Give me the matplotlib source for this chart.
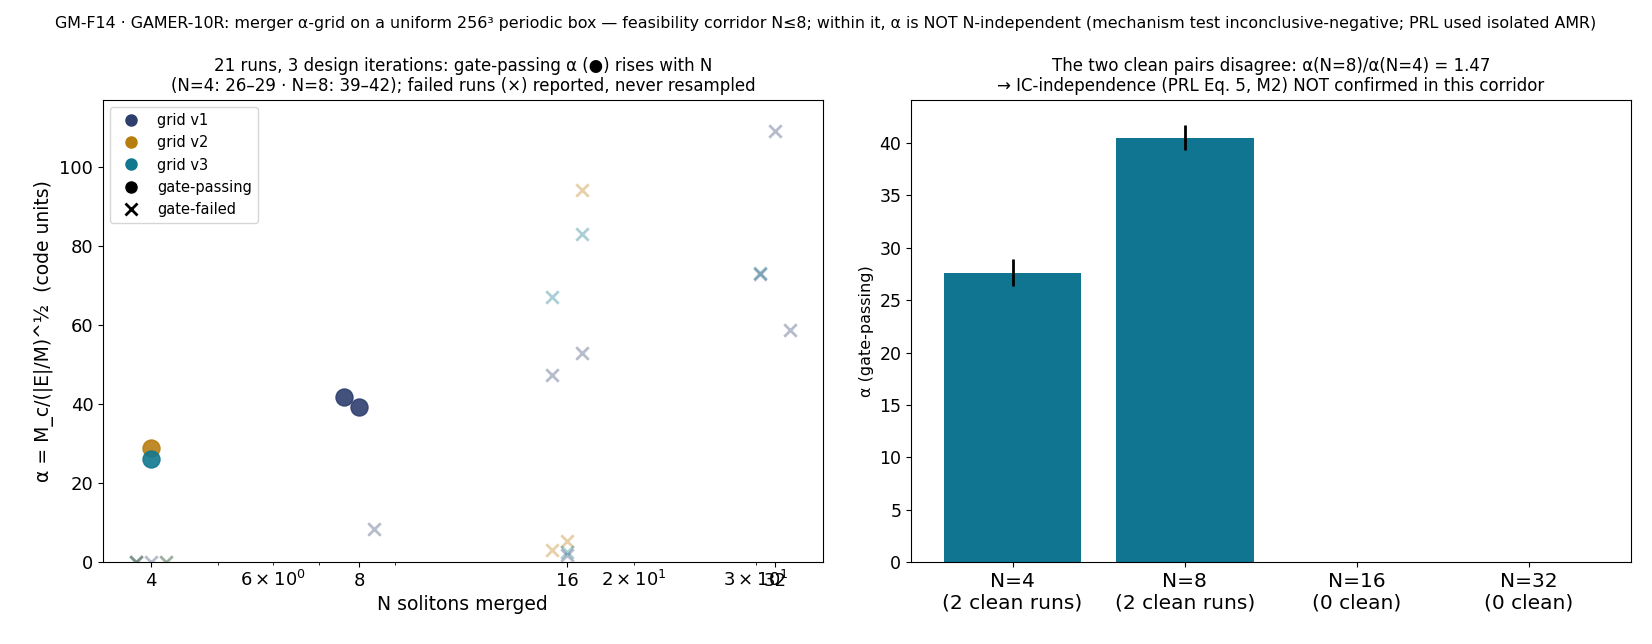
import numpy as np
from matplotlib import pyplot as plt
from matplotlib.lines import Line2D
from matplotlib.ticker import LogFormatterSciNotation

# run table
run_n       = [4, 4, 8, 8, 8, 16, 16, 16, 32, 32, 32,
               4, 4, 4, 16, 16, 16,
               4, 4, 4, 16, 16, 16, 32]
run_grid    = ['v1'] * 11 + ['v2'] * 6 + ['v3'] * 7
run_seed    = [0, 1, 0, 1, 2, 0, 1, 2, 0, 1, 2,
               0, 1, 2, 0, 1, 2,
               0, 1, 2, 0, 1, 2, 0]
run_alpha   = [0.0, 0.0, 41.7, 39.3, 8.3, 47.3, 1.8, 52.9, 73.0, 109.0, 58.7,
               0.0, 29.0, 0.0, 3.2, 5.3, 94.2,
               0.0, 26.2, 0.0, 67.1, 2.5, 83.0, 73.3]
run_pass    = [0, 0, 1, 1, 0, 0, 0, 0, 0, 0, 0,
               0, 1, 0, 0, 0, 0,
               0, 1, 0, 0, 0, 0, 0]

grid_colors = {'v1': '#2e3f6e', 'v2': '#b87d0f', 'v3': '#12788f'}

bar_labels = ['N=4\n(2 clean runs)', 'N=8\n(2 clean runs)', 'N=16\n(0 clean)', 'N=32\n(0 clean)']
bar_mean = [27.6, 40.5, 0.0, 0.0]
bar_err = [1.3, 1.2, 0.0, 0.0]

fig, (ax1, ax2) = plt.subplots(1, 2, figsize=(16.52, 6.44), dpi=100)
fig.subplots_adjust(left=0.0624, right=0.987, top=0.845, bottom=0.127, wspace=0.123)

jitter = [0.95, 1.0, 1.05]
for g in ['v1', 'v2', 'v3']:
    xs_p, ys_p, xs_f, ys_f = [], [], [], []
    for n, gg, s, a, p in zip(run_n, run_grid, run_seed, run_alpha, run_pass):
        if gg != g:
            continue
        x = n * jitter[s]
        if p:
            xs_p.append(x)
            ys_p.append(a)
        else:
            xs_f.append(x)
            ys_f.append(a)
    ax1.scatter(xs_f, ys_f, marker='x', s=80, linewidths=2, color=grid_colors[g], alpha=0.35)
    ax1.scatter(xs_p, ys_p, marker='o', s=150, color=grid_colors[g], alpha=0.9, zorder=3)

ax1.set_xscale('log')
ax1.set_xticks([4, 8, 16, 32])
ax1.set_xticklabels(['4', '8', '16', '32'])
ax1.xaxis.set_minor_formatter(LogFormatterSciNotation(labelOnlyBase=False, minor_thresholds=(2, 0.4)))
ax1.set_ylim(0, 117)
ax1.set_xlabel('N solitons merged', fontsize=13.5)
ax1.set_ylabel('α = M_c/(|E|/M)^½  (code units)', fontsize=13.5)
ax1.set_title('21 runs, 3 design iterations: gate-passing α (●) rises with N\n'
              '(N=4: 26–29 · N=8: 39–42); failed runs (×) reported, never resampled', fontsize=12)
ax1.tick_params(which='both', labelsize=13)

handles = [Line2D([], [], marker='o', ls='', color=grid_colors['v1'], markersize=8, label='grid v1'),
           Line2D([], [], marker='o', ls='', color=grid_colors['v2'], markersize=8, label='grid v2'),
           Line2D([], [], marker='o', ls='', color=grid_colors['v3'], markersize=8, label='grid v3'),
           Line2D([], [], marker='o', ls='', color='black', markersize=8, label='gate-passing'),
           Line2D([], [], marker='x', ls='', color='black', markersize=8, mew=2, label='gate-failed')]
ax1.legend(handles=handles, loc='upper left', fontsize=10.5)

xpos = np.arange(len(bar_labels))
ax2.bar(xpos, bar_mean, color='#107591', width=0.8)
ax2.errorbar(xpos[:2], bar_mean[:2], yerr=bar_err[:2], fmt='none', ecolor='black', elinewidth=2)
ax2.set_xticks(xpos)
ax2.set_xticklabels(bar_labels)
ax2.set_ylabel('α (gate-passing)', fontsize=11.5)
ax2.set_ylim(0, 44.1)
ax2.set_title('The two clean pairs disagree: α(N=8)/α(N=4) = 1.47\n'
              '→ IC-independence (PRL Eq. 5, M2) NOT confirmed in this corridor', fontsize=12)
ax2.tick_params(axis='x', labelsize=14.5)
ax2.tick_params(axis='y', labelsize=12.5)

fig.suptitle('GM-F14 · GAMER-10R: merger α-grid on a uniform 256³ periodic box — feasibility corridor N≤8; '
             'within it, α is NOT N-independent (mechanism test inconclusive-negative; PRL used isolated AMR)',
             fontsize=11.4, y=0.975)

plt.savefig('out.png')
